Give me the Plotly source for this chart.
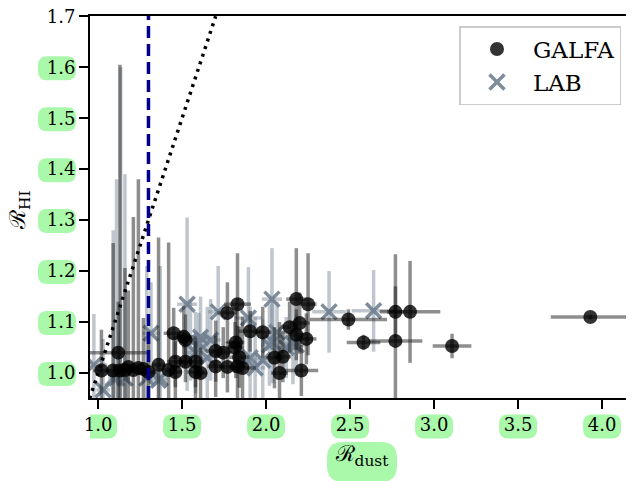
import plotly.graph_objects as go

# ---------------- data ----------------
galfa_x = [1.02, 1.09, 1.12, 1.13, 1.16, 1.18, 1.21, 1.24, 1.27, 1.30, 1.36, 1.42,
           1.45, 1.51, 1.52, 1.46, 1.52, 1.58, 1.46, 1.58, 1.61, 1.70, 1.745, 1.70,
           1.77, 1.83, 1.86, 1.84, 1.815, 1.82, 1.83, 1.77, 1.905, 1.98, 2.05, 2.10,
           2.08, 2.21, 2.14, 2.20, 2.18, 2.24, 2.18, 2.25, 2.49, 2.58, 2.77, 2.857,
           2.77, 3.107, 3.93]
galfa_y = [1.005, 1.005, 1.04, 1.005, 1.006, 1.012, 1.006, 1.01, 1.008, 1.002, 1.016, 1.006,
           1.078, 1.071, 1.065, 1.022, 1.022, 1.022, 1.002, 1.002, 1.0, 1.043, 1.04, 1.013,
           1.012, 1.013, 1.01, 1.031, 1.05, 1.06, 1.135, 1.118, 1.082, 1.08, 1.03, 1.032,
           1.0, 1.005, 1.09, 1.098, 1.075, 1.067, 1.145, 1.135, 1.105, 1.06, 1.12, 1.12,
           1.063, 1.053, 1.11]
galfa_xerr = [0.05, 0.04, 0.18, 0.03, 0.04, 0.05, 0.04, 0.05, 0.04, 0.05, 0.04, 0.05,
              0.06, 0.05, 0.05, 0.05, 0.04, 0.05, 0.04, 0.05, 0.04, 0.06, 0.05, 0.05,
              0.05, 0.05, 0.08, 0.06, 0.05, 0.05, 0.08, 0.06, 0.07, 0.05, 0.05, 0.05,
              0.05, 0.10, 0.05, 0.06, 0.05, 0.06, 0.06, 0.05, 0.23, 0.10, 0.05, 0.18,
              0.16, 0.115, 0.235]
galfa_yerr = [0.08, 0.25, 0.10, 0.60, 0.20, 0.15, 0.30, 0.37, 0.10, 0.08, 0.25, 0.25,
              0.05, 0.06, 0.05, 0.05, 0.04, 0.05, 0.06, 0.06, 0.05, 0.06, 0.05, 0.06,
              0.05, 0.08, 0.10, 0.06, 0.05, 0.07, 0.10, 0.06, 0.04, 0.05, 0.06, 0.05,
              0.10, 0.05, 0.05, 0.06, 0.05, 0.05, 0.10, 0.10, 0.02, 0.015, 0.05, 0.10,
              0.17, 0.024, 0.005]

lab_x = [0.975, 1.03, 1.09, 1.11, 1.135, 1.16, 1.29, 1.315, 1.36, 1.37, 1.53, 1.55,
         1.60, 1.61, 1.67, 1.65, 1.58, 1.715, 1.895, 1.905, 1.935, 2.035, 2.065, 2.04,
         2.16, 2.02, 2.12, 2.18, 1.98, 2.375, 2.64]
lab_y = [1.016, 0.967, 0.99, 0.99, 1.0, 0.99, 0.99, 1.078, 0.986, 0.99, 1.135, 1.065,
         1.058, 1.07, 1.065, 1.03, 1.04, 1.12, 1.108, 1.03, 1.01, 1.145, 1.08, 1.06,
         1.058, 1.055, 1.05, 1.055, 1.025, 1.12, 1.122]
lab_xerr = [0.08, 0.04, 0.03, 0.03, 0.03, 0.03, 0.03, 0.05, 0.05, 0.04, 0.06, 0.05,
            0.05, 0.06, 0.06, 0.05, 0.05, 0.06, 0.08, 0.06, 0.06, 0.06, 0.05, 0.06,
            0.05, 0.05, 0.06, 0.05, 0.05, 0.10, 0.13]
lab_yerr = [0.10, 0.10, 0.29, 0.39, 0.60, 0.40, 0.22, 0.10, 0.10, 0.22, 0.17, 0.08,
            0.06, 0.08, 0.08, 0.10, 0.08, 0.09, 0.10, 0.10, 0.10, 0.10, 0.06, 0.08,
            0.08, 0.08, 0.06, 0.06, 0.08, 0.08, 0.08]

x_ticks = [1.0, 1.5, 2.0, 2.5, 3.0, 3.5, 4.0]
y_ticks = [1.0, 1.1, 1.2, 1.3, 1.4, 1.5, 1.6, 1.7]
y_ticks_boxed = [1.0, 1.1, 1.2, 1.3, 1.4, 1.5, 1.6]
ratio_cut = 1.3
one_to_one = [0.95, 1.7]
x_range = [0.952, 4.19]
y_range = [0.951, 1.7005]

SERIF = "DejaVu Serif, Liberation Serif, serif"
GREEN = "#aaf8aa"
TICKLEN = 9
FIG_W, FIG_H = 626, 473
M_L, M_R, M_T, M_B = 82, 0, 8, 83

fig = go.Figure()

fig.add_trace(go.Scatter(
    x=lab_x, y=lab_y, mode="markers", name="LAB", legendrank=2,
    error_x=dict(type="data", array=lab_xerr, color="rgba(112,128,144,0.45)", thickness=3.5, width=0),
    error_y=dict(type="data", array=lab_yerr, color="rgba(112,128,144,0.45)", thickness=3.5, width=0),
    marker=dict(symbol="x-thin", size=15, color="rgba(112,128,144,0.9)",
                line=dict(width=3.5, color="rgba(112,128,144,0.9)")),
))
fig.add_trace(go.Scatter(
    x=galfa_x, y=galfa_y, mode="markers", name="GALFA", legendrank=1,
    error_x=dict(type="data", array=galfa_xerr, color="rgba(30,30,30,0.5)", thickness=3.5, width=0),
    error_y=dict(type="data", array=galfa_yerr, color="rgba(30,30,30,0.5)", thickness=3.5, width=0),
    marker=dict(symbol="circle", size=14, color="rgba(0,0,0,0.8)", line=dict(width=0)),
))

# reference lines
fig.add_shape(type="line", xref="x", yref="paper", x0=ratio_cut, x1=ratio_cut, y0=0, y1=1,
              line=dict(color="#00008b", width=3.5, dash="12px,6px"), layer="above")
fig.add_trace(go.Scatter(x=one_to_one, y=one_to_one, mode="lines", showlegend=False,
                         hoverinfo="skip", line=dict(color="black", width=3.5, dash="3px,5px")))

# outside tick marks as unclipped line markers, offset half a tick length past the spines
px_per_x = (FIG_W - M_L - M_R) / (x_range[1] - x_range[0])
px_per_y = (FIG_H - M_T - M_B) / (y_range[1] - y_range[0])
fig.add_trace(go.Scatter(
    x=x_ticks, y=[y_range[0] - (1 + TICKLEN / 2) / px_per_y] * len(x_ticks),
    mode="markers", showlegend=False, hoverinfo="skip", cliponaxis=False,
    marker=dict(symbol="line-ns", size=TICKLEN, color="black", line=dict(width=2, color="black")),
))
fig.add_trace(go.Scatter(
    x=[x_range[0] - (1 + TICKLEN / 2) / px_per_x] * len(y_ticks), y=y_ticks,
    mode="markers", showlegend=False, hoverinfo="skip", cliponaxis=False,
    marker=dict(symbol="line-ew", size=TICKLEN, color="black", line=dict(width=2, color="black")),
))

def pill(w, h, r, cx=0.0, cy=0.0):
    x0, x1 = cx - w / 2, cx + w / 2
    y0, y1 = cy - h / 2, cy + h / 2
    return (f"M{x0+r},{y0} L{x1-r},{y0} Q{x1},{y0} {x1},{y0+r} L{x1},{y1-r} "
            f"Q{x1},{y1} {x1-r},{y1} L{x0+r},{y1} Q{x0},{y1} {x0},{y1-r} "
            f"L{x0},{y0+r} Q{x0},{y0} {x0+r},{y0} Z")

# green tick-label backgrounds
for t in x_ticks:
    fig.add_shape(type="path", xref="x", yref="paper", xsizemode="pixel", ysizemode="pixel",
                  xanchor=t, yanchor=0, path=pill(38, 24, 9, 0, -28.5),
                  fillcolor=GREEN, line=dict(width=0), layer="below")
for t in y_ticks_boxed:
    fig.add_shape(type="path", xref="paper", yref="y", xsizemode="pixel", ysizemode="pixel",
                  xanchor=0, yanchor=t, path=pill(38, 24, 9, -33, -1),
                  fillcolor=GREEN, line=dict(width=0), layer="below")
# green x-axis-title background
fig.add_shape(type="path", xref="paper", yref="paper", xsizemode="pixel", ysizemode="pixel",
              xanchor=0.5, yanchor=0, path=pill(70, 40, 16, 0, -64),
              fillcolor=GREEN, line=dict(width=0), layer="below")

# y-axis title
fig.add_annotation(text="ℛ<sub>HI</sub>", xref="paper", yref="paper", x=0, y=0.5,
                   xanchor="center", yanchor="middle", xshift=-71, yshift=-3, textangle=-90,
                   showarrow=False, font=dict(size=22, family=SERIF, color="black"))

axis_common = dict(
    tickmode="array", ticks="outside", ticklen=TICKLEN, tickwidth=2, tickcolor="#000000",
    showticklabels=True, showline=True, linewidth=2, linecolor="#000000",
    ticklabeloverflow="allow",
    showgrid=False, zeroline=False, tickfont=dict(size=18, color="black"), automargin=False,
)

fig.update_layout(
    template="none",
    width=FIG_W, height=FIG_H,
    margin=dict(l=M_L, r=M_R, t=M_T, b=M_B, autoexpand=False),
    plot_bgcolor="white", paper_bgcolor="white",
    font=dict(family=SERIF, color="black", size=18),
    showlegend=True,
    legend=dict(x=0.977, y=0.9735, xanchor="right", yanchor="top",
                bgcolor="rgba(255,255,255,0.8)", bordercolor="#cccccc", borderwidth=1.5,
                font=dict(family=SERIF, size=23), itemwidth=62, tracegroupgap=1),
    xaxis=dict(range=x_range, tickvals=x_ticks, ticktext=[f"{v:.1f}" for v in x_ticks],
               mirror=True,
               title=dict(text="ℛ<sub>dust</sub>", font=dict(size=22), standoff=12),
               **axis_common),
    yaxis=dict(range=y_range, tickvals=y_ticks, ticktext=[f"{v:.1f}" for v in y_ticks],
               **axis_common),
)

fig.write_html("out.html")
